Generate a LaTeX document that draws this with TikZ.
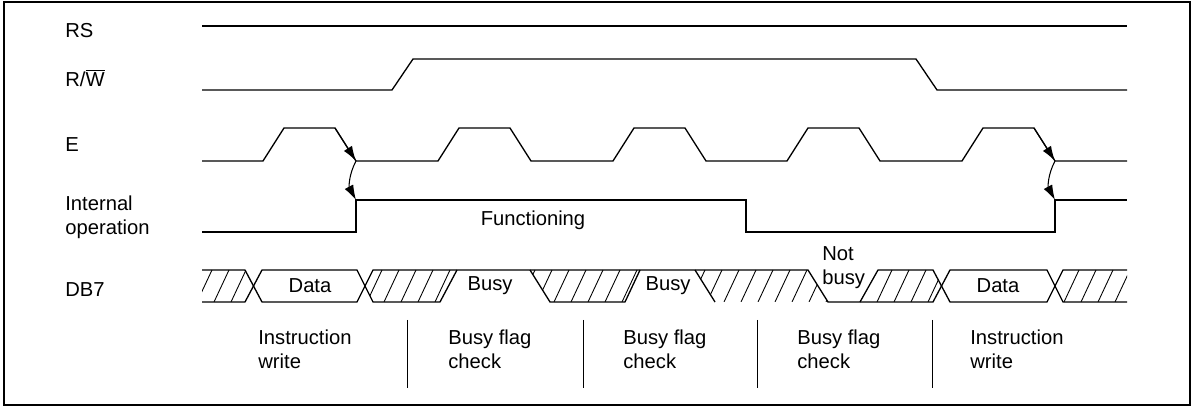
\documentclass[tikz,border=0pt]{standalone}
\usepackage{fontspec}
\setmainfont{Liberation Sans}
\usetikzlibrary{arrows.meta}

\tikzset{
  sig/.style={line width=0.75pt},
  hatchline/.style={line width=0.5pt},
  edgearrow/.style={line width=0.6pt,-{Latex[length=8.5pt,width=5.5pt]}},
  lbl/.style={anchor=west,inner sep=0pt,align=left,font=\fontsize{11.5}{13.5}\selectfont},
  txt/.style={inner sep=0pt,align=left,font=\fontsize{11.5}{13.5}\selectfont},
}

\begin{document}
\begin{tikzpicture}[x=0.02cm,y=-0.02cm]
      \useasboundingbox (0,0) rectangle (1194,408);
      \draw[line width=0.75pt] (4,2) rectangle (1190,405);
      % signal names
      \node[lbl] (rs) at (65,31) {RS};
      \node[lbl] (rw) at (65,78) {R/$\overline{\hbox{W}}$};
      \node[lbl] (en) at (65,145) {E};
      \node[lbl] (iop) at (65,217) {Internal\\operation};
      \node[lbl] (db) at (65,290) {DB7};
      % RS, R/W
      \draw[sig] (202,26) -- (1127,26);
      \draw[sig] (202,90) -- (392,90) -- (413,59) -- (916,59) -- (937,90) -- (1127,90);
      % E
      \draw[sig] (202,161) -- (263,161) -- (284,128) -- (335,128) -- (356,161)
        -- (438,161) -- (459,128) -- (510,128) -- (531,161)
        -- (613,161) -- (634,128) -- (685,128) -- (706,161)
        -- (787,161) -- (808,128) -- (859,128) -- (880,161)
        -- (962,161) -- (983,128) -- (1034,128) -- (1055,161) -- (1127,161);
      % internal operation
      \draw[sig] (202,232) -- (356,232) -- (356,200) -- (746,200) -- (746,232)
        -- (1055,232) -- (1055,200) -- (1127,200);
      \node[txt] (func) at (533,220) {Functioning};
      % edge arrows
      \coordinate (ea) at (335,128);
      \coordinate (eb) at (356,161);
      \coordinate (ia) at (356,200);
      \coordinate (ec) at (1034,128);
      \coordinate (ed) at (1055,161);
      \coordinate (ib) at (1055,200);
      \draw[edgearrow] (ea) -- (eb);
      \draw[edgearrow] (eb) to[bend right=28] (ia);
      \draw[edgearrow] (ec) -- (ed);
      \draw[edgearrow] (ed) to[bend right=28] (ib);
      % DB7 hatching
      \begin{scope}
        \clip (202,270) -- (245,270) -- (253,286) -- (245,302) -- (202,302) -- cycle
              (365,286) -- (373,270) -- (457,270) -- (440,302) -- (373,302) -- cycle
              (530,270) -- (640,270) -- (625,302) -- (550,302) -- cycle
              (695,270) -- (808,270) -- (828,302) -- (715,302) -- cycle
              (860,302) -- (878,270) -- (933,270) -- (942,286) -- (933,302) -- cycle
              (1055,286) -- (1063,270) -- (1127,270) -- (1127,302) -- (1063,302) -- cycle;
        \foreach \x in {180,197,...,1140}
          \draw[hatchline] (\x,302) -- (\x+15,270);
      \end{scope}
      % DB7 outline
      \draw[sig] (202,270) -- (245,270) -- (262,302) -- (357,302) -- (373,270) -- (808,270) -- (828,302) -- (933,302) -- (950,270) -- (1047,270) -- (1063,302) -- (1127,302);
      \draw[sig] (202,302) -- (245,302) -- (262,270) -- (357,270) -- (373,302) -- (440,302) -- (457,270);
      \draw[sig] (530,270) -- (550,302) -- (625,302) -- (640,270);
      \draw[sig] (695,270) -- (715,302);
      \draw[sig] (860,302) -- (878,270) -- (933,270) -- (950,302) -- (1047,302) -- (1063,270) -- (1127,270);
      \node[txt] (data1) at (310,286) {Data};
      \node[txt] (busy1) at (490,286) {Busy};
      \node[txt] (busy2) at (668,286) {Busy};
      \node[txt,anchor=west] (nbusy) at (822,268) {Not\\busy};
      \node[txt] (data2) at (998,286) {Data};
      % phases
      \foreach \x in {407,583,757,932}
        \draw[line width=0.5pt] (\x,320) -- (\x,388);
      \node[lbl] (ph1) at (258,349) {Instruction\\write};
      \node[lbl] (ph2) at (448,349) {Busy flag\\check};
      \node[lbl] (ph3) at (623,349) {Busy flag\\check};
      \node[lbl] (ph4) at (797,349) {Busy flag\\check};
      \node[lbl] (ph5) at (970,349) {Instruction\\write};
\end{tikzpicture}
\end{document}
